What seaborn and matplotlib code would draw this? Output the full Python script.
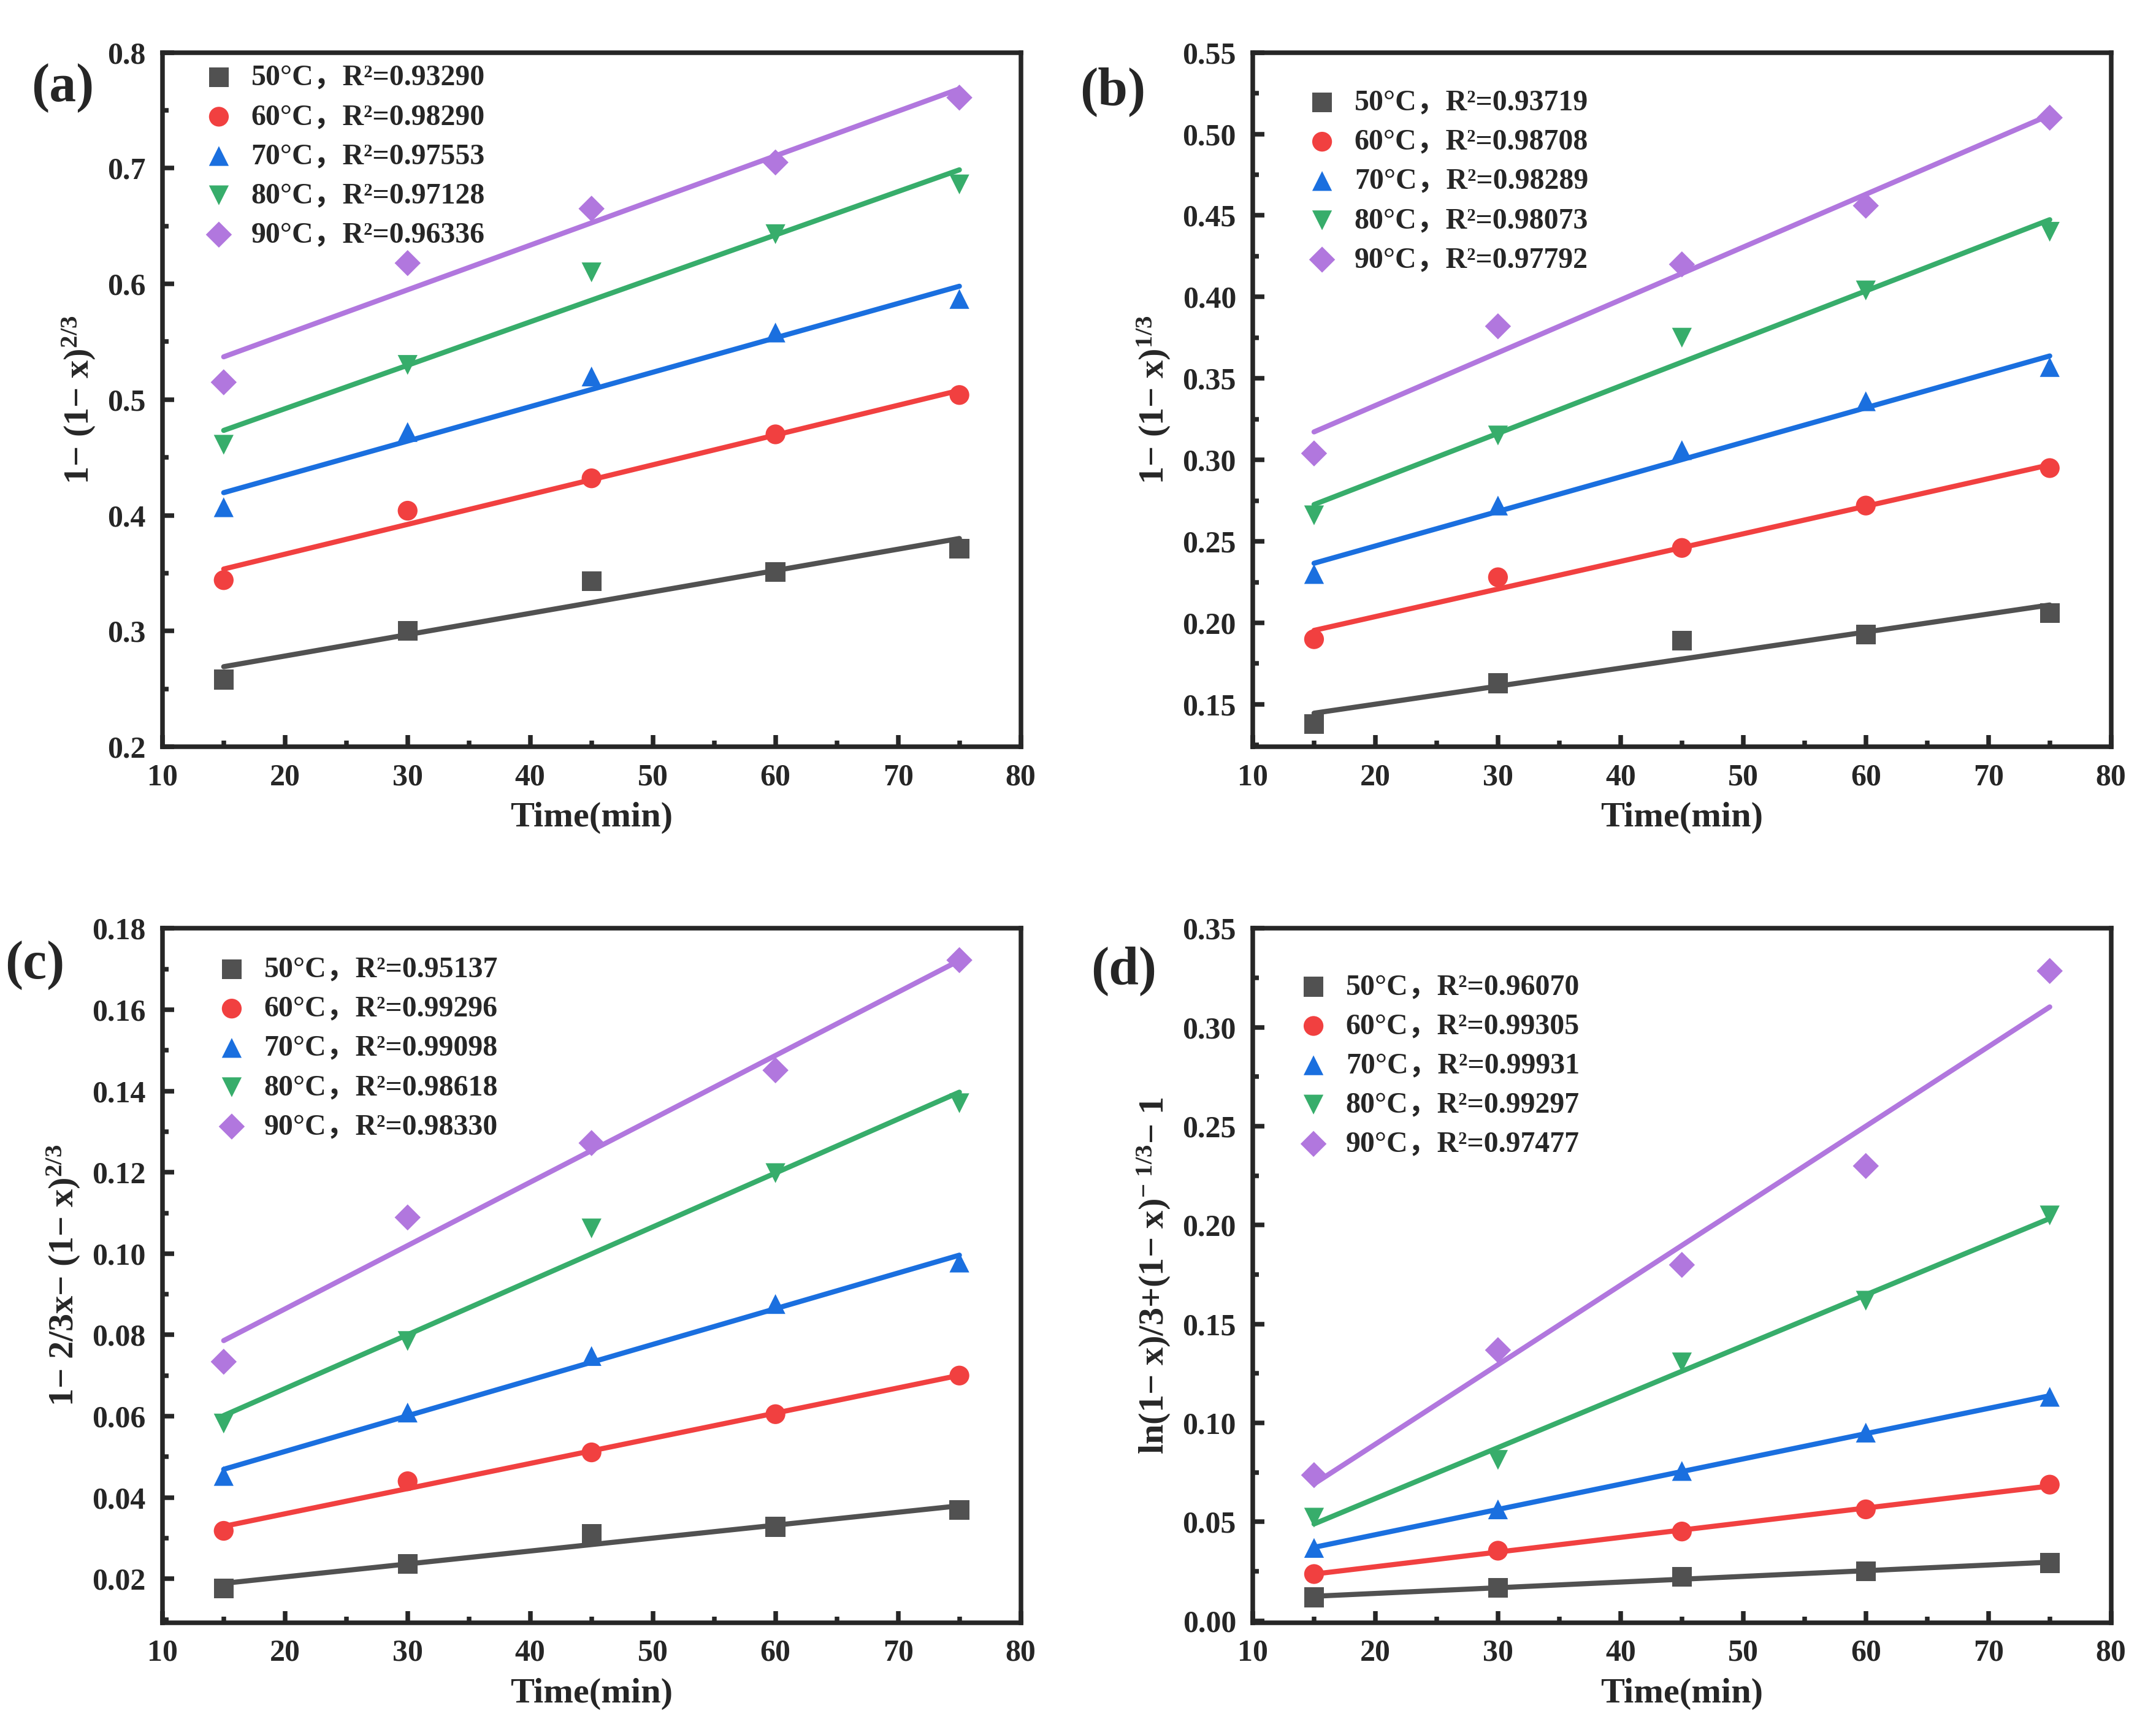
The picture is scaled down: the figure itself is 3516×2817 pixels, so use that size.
import numpy as np
import pandas as pd
import matplotlib
matplotlib.use("Agg")
import matplotlib.pyplot as plt
from matplotlib.ticker import MultipleLocator
import seaborn as sns

# Data
time_min = [15, 30, 45, 60, 75]
temps = ["50°C", "60°C", "70°C", "80°C", "90°C"]

# (a) 1-(1-x)^(2/3)
a_50 = [0.258, 0.300, 0.343, 0.351, 0.371]
a_60 = [0.344, 0.404, 0.432, 0.470, 0.504]
a_70 = [0.407, 0.472, 0.520, 0.558, 0.587]
a_80 = [0.461, 0.530, 0.610, 0.643, 0.686]
a_90 = [0.515, 0.618, 0.665, 0.705, 0.761]
a_r2 = ["0.93290", "0.98290", "0.97553", "0.97128", "0.96336"]

# (b) 1-(1-x)^(1/3)
b_50 = [0.138, 0.163, 0.189, 0.193, 0.206]
b_60 = [0.190, 0.228, 0.246, 0.272, 0.295]
b_70 = [0.230, 0.272, 0.306, 0.336, 0.357]
b_80 = [0.266, 0.315, 0.375, 0.404, 0.440]
b_90 = [0.304, 0.382, 0.420, 0.456, 0.510]
b_r2 = ["0.93719", "0.98708", "0.98289", "0.98073", "0.97792"]

# (c) 1-2/3x-(1-x)^(2/3)
c_50 = [0.0176, 0.0237, 0.0311, 0.0328, 0.0369]
c_60 = [0.0318, 0.0440, 0.0511, 0.0605, 0.0700]
c_70 = [0.0453, 0.0609, 0.0748, 0.0876, 0.0978]
c_80 = [0.0582, 0.0785, 0.1062, 0.1198, 0.1370]
c_90 = [0.0734, 0.1089, 0.1272, 0.1451, 0.1722]
c_r2 = ["0.95137", "0.99296", "0.99098", "0.98618", "0.98330"]

# (d) ln(1-x)/3+(1-x)^(-1/3)-1
d_50 = [0.0118, 0.0167, 0.0222, 0.0250, 0.0292]
d_60 = [0.0236, 0.0354, 0.0451, 0.0563, 0.0688]
d_70 = [0.0368, 0.0563, 0.0757, 0.0951, 0.1132]
d_80 = [0.0521, 0.0813, 0.1306, 0.1618, 0.2049]
d_90 = [0.0736, 0.1368, 0.1799, 0.2299, 0.3285]
d_r2 = ["0.96070", "0.99305", "0.99931", "0.99297", "0.97477"]

colors = ["#515151", "#F14040", "#1A6FDF", "#37AD6B", "#B177DE"]
markers = ["s", "o", "^", "v", "D"]

sns.set_style("ticks")
plt.rcParams["font.family"] = ["Liberation Serif", "Noto Sans CJK SC", "DejaVu Serif"]
plt.rcParams["font.weight"] = "bold"
plt.rcParams["axes.labelweight"] = "bold"
plt.rcParams["mathtext.fontset"] = "custom"
plt.rcParams["mathtext.rm"] = "Liberation Serif:bold"
plt.rcParams["mathtext.it"] = "Liberation Serif:bold"
plt.rcParams["mathtext.bf"] = "Liberation Serif:bold"
plt.rcParams["axes.linewidth"] = 1.8

fig = plt.figure(figsize=(11.723, 9.39), dpi=300)
w, h = 0.398, 0.402
axes = [fig.add_axes([0.0753, 0.5676, w, h]),
        fig.add_axes([0.5809, 0.5676, w, h]),
        fig.add_axes([0.0753, 0.0604, w, h]),
        fig.add_axes([0.5809, 0.0604, w, h])]

panels = [
    ([a_50, a_60, a_70, a_80, a_90], a_r2, (0.2, 0.8), 0.1, 0.05, "%.1f",
     "1− (1− x)$^{2/3}$", "(a)", (0.029, 0.949), (0.035, 1.0)),
    ([b_50, b_60, b_70, b_80, b_90], b_r2, (0.124, 0.55), 0.05, 0.025, "%.2f",
     "1− (1− x)$^{1/3}$", "(b)", (0.516, 0.947), (0.05, 0.964)),
    ([c_50, c_60, c_70, c_80, c_90], c_r2, (0.0092, 0.18), 0.02, 0.01, "%.2f",
     "1− 2/3x− (1− x)$^{2/3}$", "(c)", (0.016, 0.441), (0.05, 0.977)),
    ([d_50, d_60, d_70, d_80, d_90], d_r2, (-0.001, 0.35), 0.05, 0.025, "%.2f",
     "ln(1− x)/3+(1− x)$^{−\\ 1/3}$− 1", "(d)", (0.521, 0.438), (0.04, 0.952)),
]

for ax, (series, r2, ylim, ymaj, ymin, fmt, ylabel, tag, tagpos, legpos) in zip(axes, panels):
    for i, yvals in enumerate(series):
        df = pd.DataFrame({"t": time_min, "y": yvals})
        sns.regplot(data=df, x="t", y="y", ax=ax, scatter=False, ci=None,
                    color=colors[i], line_kws={"lw": 2.0})
        sns.scatterplot(data=df, x="t", y="y", ax=ax, color=colors[i],
                        marker=markers[i], s=60 if markers[i] != "D" else 52,
                        edgecolor="none", zorder=3,
                        label=f"{temps[i]}，R²={r2[i]}")
    ax.set_xlim(10, 80)
    ax.set_ylim(*ylim)
    ax.xaxis.set_major_locator(MultipleLocator(10))
    ax.xaxis.set_minor_locator(MultipleLocator(5))
    ax.yaxis.set_major_locator(MultipleLocator(ymaj))
    ax.yaxis.set_minor_locator(MultipleLocator(ymin))
    ax.yaxis.set_major_formatter(matplotlib.ticker.FormatStrFormatter(fmt))
    ax.tick_params(which="major", direction="in", length=4.5, width=1.8,
                   labelsize=12, pad=6.5)
    ax.tick_params(which="minor", direction="in", length=2.3, width=1.8)
    for lab in ax.get_xticklabels() + ax.get_yticklabels():
        lab.set_fontweight("bold")
    ax.set_xlabel("Time(min)", fontsize=14, fontweight="bold", labelpad=4)
    ax.set_ylabel(ylabel, fontsize=14, fontweight="bold", labelpad=4)
    leg = ax.legend(loc="upper left", bbox_to_anchor=legpos, frameon=False,
                    fontsize=11.5, handletextpad=0.6, labelspacing=0.42,
                    handlelength=1.0, borderaxespad=0)
    for t in leg.get_texts():
        t.set_fontweight("bold")
    fig.text(tagpos[0], tagpos[1], tag, fontsize=21, fontweight="bold",
             ha="center", va="center")

fig.savefig("out.png", dpi=300)
